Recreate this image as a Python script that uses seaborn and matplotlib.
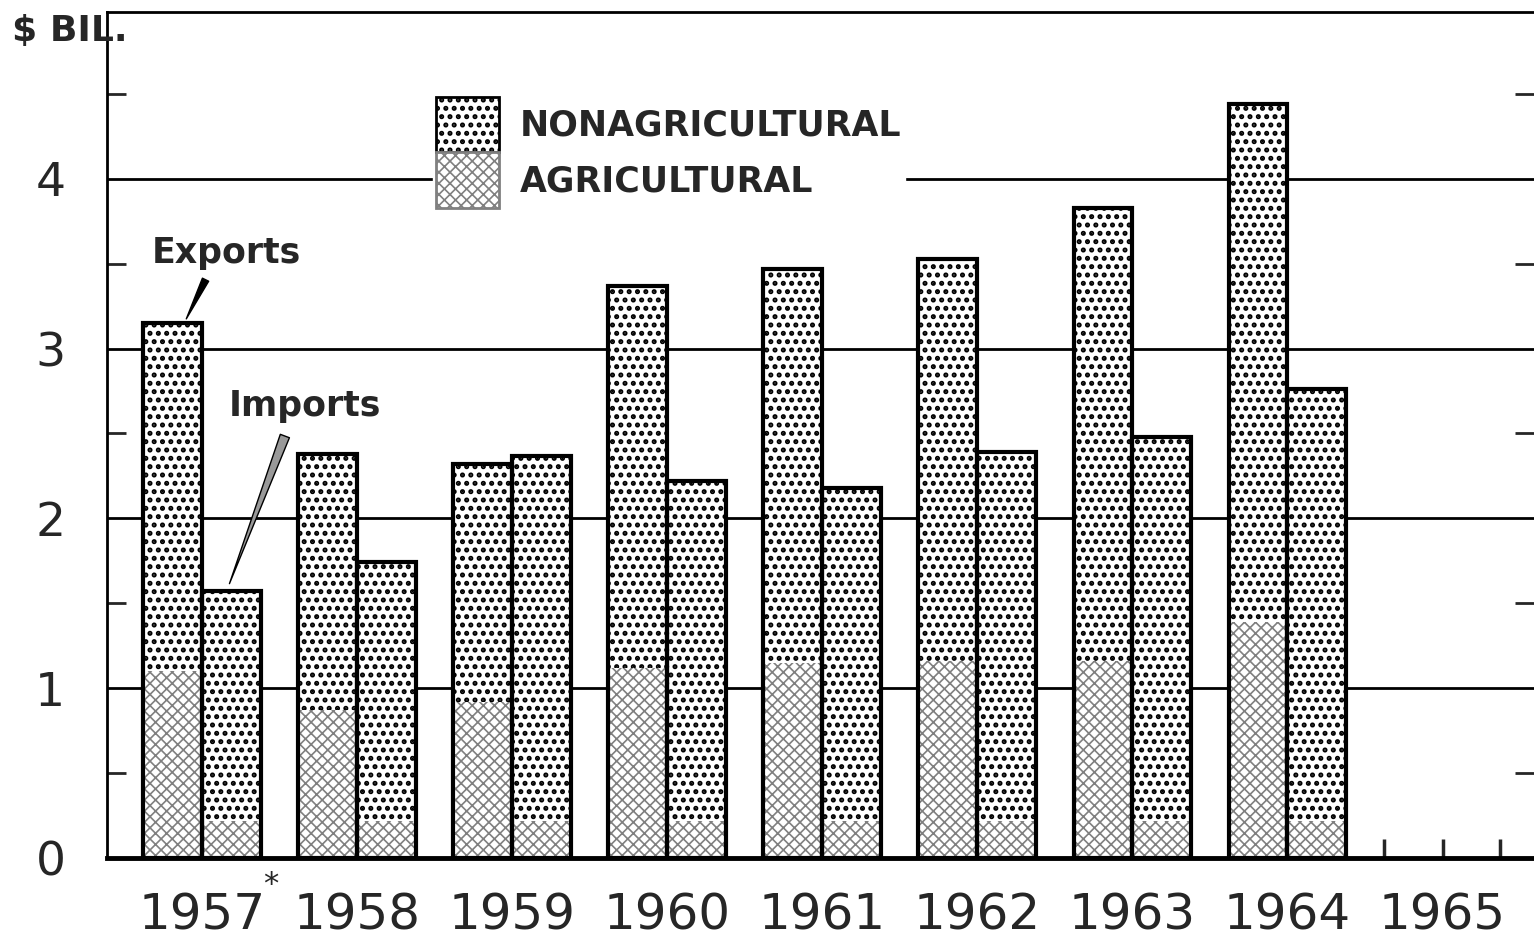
import pandas as pd
import matplotlib.pyplot as plt
import seaborn as sns
from matplotlib.patches import Patch
from matplotlib.ticker import MultipleLocator, FixedLocator

sns.set_style("white")
plt.rcParams['font.family'] = ['DejaVu Sans']

years = ["1957", "1958", "1959", "1960", "1961", "1962", "1963", "1964", "1965"]
data_years = ["1957", "1958", "1959", "1960", "1961", "1962", "1963", "1964"]
exports_total = [3.15, 2.38, 2.32, 3.37, 3.47, 3.53, 3.83, 4.44]
imports_total = [1.57, 1.74, 2.37, 2.22, 2.18, 2.39, 2.48, 2.76]
exports_agri = [1.10, 0.87, 0.92, 1.12, 1.15, 1.16, 1.16, 1.39]
imports_agri = [0.22, 0.22, 0.22, 0.22, 0.22, 0.22, 0.22, 0.22]
flows = ["Exports", "Imports"]

df = pd.DataFrame({
    "year": data_years * 2,
    "flow": ["Exports"] * 8 + ["Imports"] * 8,
    "total": exports_total + imports_total,
    "agri": exports_agri + imports_agri,
})

fig, ax = plt.subplots(figsize=(15.34, 9.48), dpi=100)
fig.subplots_adjust(left=0.0698, right=1.0, bottom=0.095, top=0.987)

# gridlines behind bars
for v in [1, 2, 3, 4]:
    ax.axhline(v, color="black", lw=2, zorder=0)

# total bars (nonagricultural pattern)
plt.rcParams['hatch.linewidth'] = 2.4
sns.barplot(data=df, x="year", y="total", hue="flow", order=years, hue_order=flows,
            palette=["white", "white"], width=0.76, gap=0, errorbar=None,
            edgecolor="black", linewidth=0, legend=False, zorder=2, ax=ax)
for p in ax.patches:
    p.set_hatch("..")
    p.set_facecolor("white")
n_total = len(ax.patches)

# agricultural part
plt.rcParams['hatch.linewidth'] = 1.2
sns.barplot(data=df, x="year", y="agri", hue="flow", order=years, hue_order=flows,
            palette=["white", "white"], width=0.76, gap=0, errorbar=None,
            edgecolor="#808080", linewidth=0, legend=False, zorder=3, ax=ax)
for p in ax.patches[n_total:]:
    p.set_hatch("xxx")
    p.set_facecolor("white")
    p.set_edgecolor("#808080")
n_agri = len(ax.patches)

# outlines
sns.barplot(data=df, x="year", y="total", hue="flow", order=years, hue_order=flows,
            palette=["black", "black"], width=0.76, gap=0, errorbar=None,
            fill=False, linewidth=3, legend=False, zorder=4, ax=ax)
for p in ax.patches[n_agri:]:
    p.set_edgecolor("black")

ax.set_xlim(-0.613, 8.59)
ax.set_ylim(0, 4.98)
ax.set_xlabel("")
ax.set_ylabel("")

ax.set_yticks([0, 1, 2, 3, 4])
ax.set_yticklabels(["0", "1", "2", "3", "4"], fontsize=34)
ax.yaxis.set_minor_locator(MultipleLocator(0.5))
ax.tick_params(axis="y", which="major", length=0, pad=30)
ax.tick_params(axis="y", which="minor", direction="in", length=14, width=2,
               left=True, right=True)
ax.set_xticks(range(len(years)))
ax.set_xticklabels(years, fontsize=36)
ax.tick_params(axis="x", which="major", length=0, pad=24)
ax.xaxis.remove_overlapping_locs = False
ax.xaxis.set_minor_locator(FixedLocator([7.62, 8.0, 8.37]))
ax.tick_params(axis="x", which="minor", direction="in", length=14, width=2.5, bottom=True)

for side in ["left", "top", "bottom"]:
    ax.spines[side].set_visible(True)
    ax.spines[side].set_color("black")
ax.spines["left"].set_linewidth(2)
ax.spines["top"].set_linewidth(2)
ax.spines["bottom"].set_linewidth(3.5)
ax.spines["right"].set_visible(False)

# footnote asterisk after 1957
ax.annotate("*", xy=(0.44, 0), xycoords=("data", "axes fraction"),
            xytext=(0, -19), textcoords="offset points", fontsize=22,
            ha="center", va="center")

fig.text(0.008, 0.967, "$ BIL.", fontsize=26, fontweight="bold", va="center")

# annotations
ax.text(0.155, 3.56, "Exports", fontsize=25, fontweight="bold", ha="center", va="center",
        zorder=6)
ax.annotate("", xy=(-0.11, 3.16), xytext=(0.03, 3.42),
            arrowprops=dict(arrowstyle="wedge,tail_width=0.5", fc="black", ec="black"),
            zorder=6)
ax.text(0.66, 2.66, "Imports", fontsize=25, fontweight="bold", ha="center", va="center",
        bbox=dict(fc="white", ec="none", pad=2), zorder=6)
ax.annotate("", xy=(0.17, 1.6), xytext=(0.54, 2.5),
            arrowprops=dict(arrowstyle="wedge,tail_width=0.7", fc="#999999", ec="black"),
            zorder=6)

h_non = Patch(facecolor="white", edgecolor="black", hatch="..", lw=2)
h_agr = Patch(facecolor="white", edgecolor="#808080", hatch="xxx", lw=2)
leg = ax.legend([h_non, h_agr], ["NONAGRICULTURAL", "AGRICULTURAL"], loc="upper left",
                bbox_to_anchor=(0.216, 0.925), frameon=True, framealpha=1,
                edgecolor="white", facecolor="white",
                prop={"size": 25, "weight": "bold"}, handlelength=1.8,
                handleheight=2.1, labelspacing=0.0, handletextpad=0.6, borderpad=0.1)
leg.set_zorder(7)
lp = leg.get_patches()
if hasattr(lp[0], "set_hatch_linewidth"):
    lp[0].set_hatch_linewidth(2.4)
    lp[1].set_hatch_linewidth(1.2)

plt.savefig("out.png", dpi=100)
